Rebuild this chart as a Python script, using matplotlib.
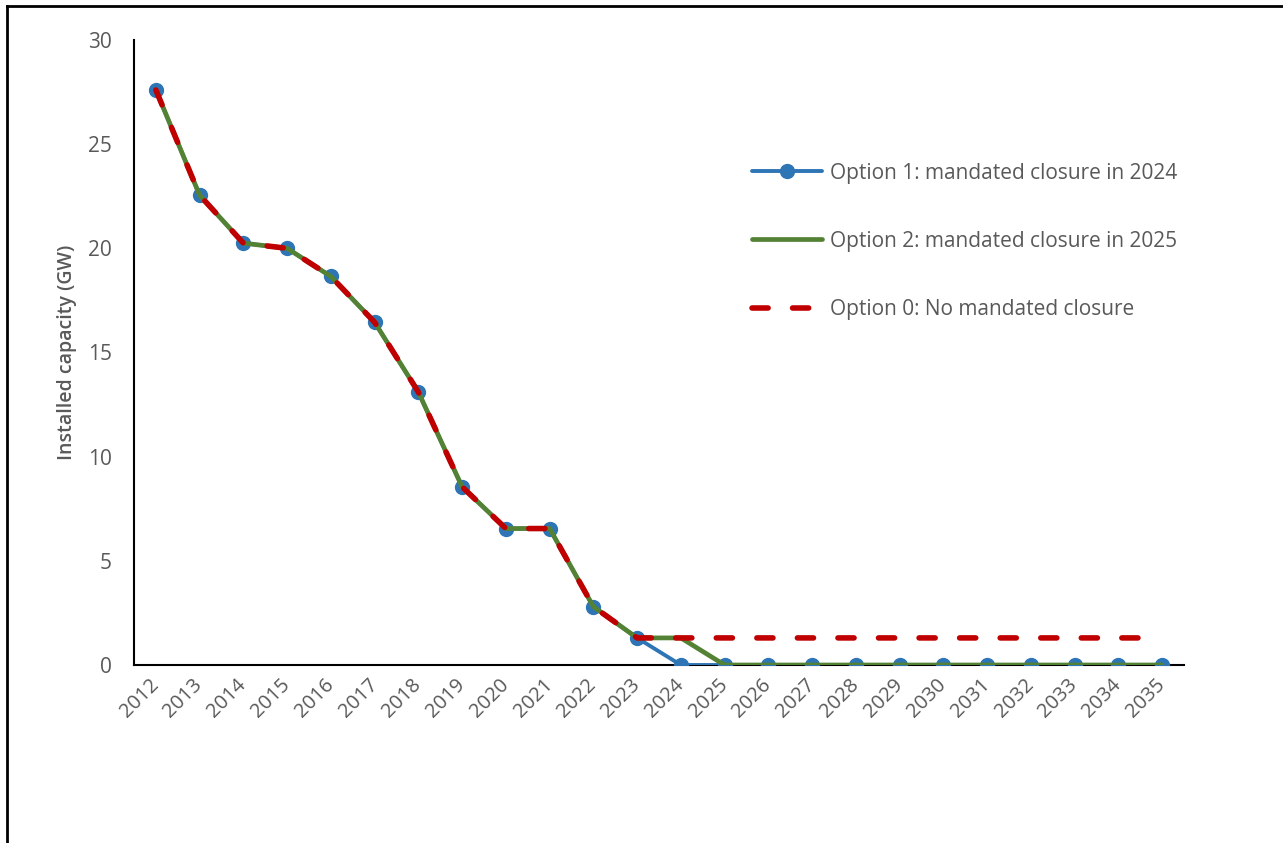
import matplotlib
matplotlib.use("Agg")
import matplotlib.pyplot as plt
from matplotlib.lines import Line2D

years = [str(y) for y in range(2012, 2036)]
history = [27.6, 22.55, 20.25, 20.0, 18.65, 16.45, 13.1, 8.55, 6.55, 6.55, 2.8, 1.3]
option1 = history + [0.0] * 12
option2 = history + [1.3] + [0.0] * 11
option0 = history + [1.3] * 12

labels = [
    "Option 1: mandated closure in 2024",
    "Option 2: mandated closure in 2025",
    "Option 0: No mandated closure",
]

BLUE = "#2E75B6"
GREEN = "#548235"
RED = "#C00000"
GREY = "#595959"

plt.rcParams["font.family"] = ["Open Sans", "DejaVu Sans"]

fig = plt.figure(figsize=(12.83, 8.43), dpi=100)
ax = fig.add_axes([134 / 1283, 1 - 665 / 843, 1050 / 1283, 625 / 843])

x = list(range(len(years)))
ax.plot(x, option1, color=BLUE, lw=2.8, marker="o", ms=10, zorder=3,
        solid_capstyle="round", label=labels[0])
ax.plot(x, option2, color=GREEN, lw=3.4, zorder=4,
        solid_capstyle="round", label=labels[1])
ax.plot(x, option0, color=RED, lw=4.0, zorder=5, dashes=(2.9, 4.4),
        dash_capstyle="round", label=labels[2])

ax.set_xlim(-0.5, len(years) - 0.5)
ax.set_ylim(0, 30)
ax.set_yticks([0, 5, 10, 15, 20, 25, 30])
ax.set_xticks(x)
ax.set_xticklabels(years, rotation=45, ha="right", va="center",
                   rotation_mode="anchor")

for side in ["top", "right"]:
    ax.spines[side].set_visible(False)
for side in ["left", "bottom"]:
    ax.spines[side].set_linewidth(1.5)
    ax.spines[side].set_color("black")

ax.tick_params(axis="y", length=0, pad=16, labelsize=15, labelcolor=GREY)
ax.tick_params(axis="x", length=0, pad=12, labelsize=14.5, labelcolor=GREY)

ax.set_ylabel("Installed capacity (GW)", fontsize=14, fontweight="semibold",
              color=GREY)
ax.yaxis.set_label_coords(-0.054, 0.5)

leg = ax.legend(loc="upper left", bbox_to_anchor=(0.5886, 0.804), frameon=False,
                fontsize=15, handlelength=3.37, handletextpad=0.38,
                labelspacing=2.27, borderpad=0, borderaxespad=0)
for t in leg.get_texts():
    t.set_color(GREY)

# outer frame lines (top and left only)
fig.add_artist(Line2D([7 / 1283, 1], [1 - 6 / 843, 1 - 6 / 843],
                      color="black", lw=2, transform=fig.transFigure))
fig.add_artist(Line2D([7 / 1283, 7 / 1283], [0, 1 - 6 / 843],
                      color="black", lw=2, transform=fig.transFigure))

fig.savefig("out.png", dpi=100)
